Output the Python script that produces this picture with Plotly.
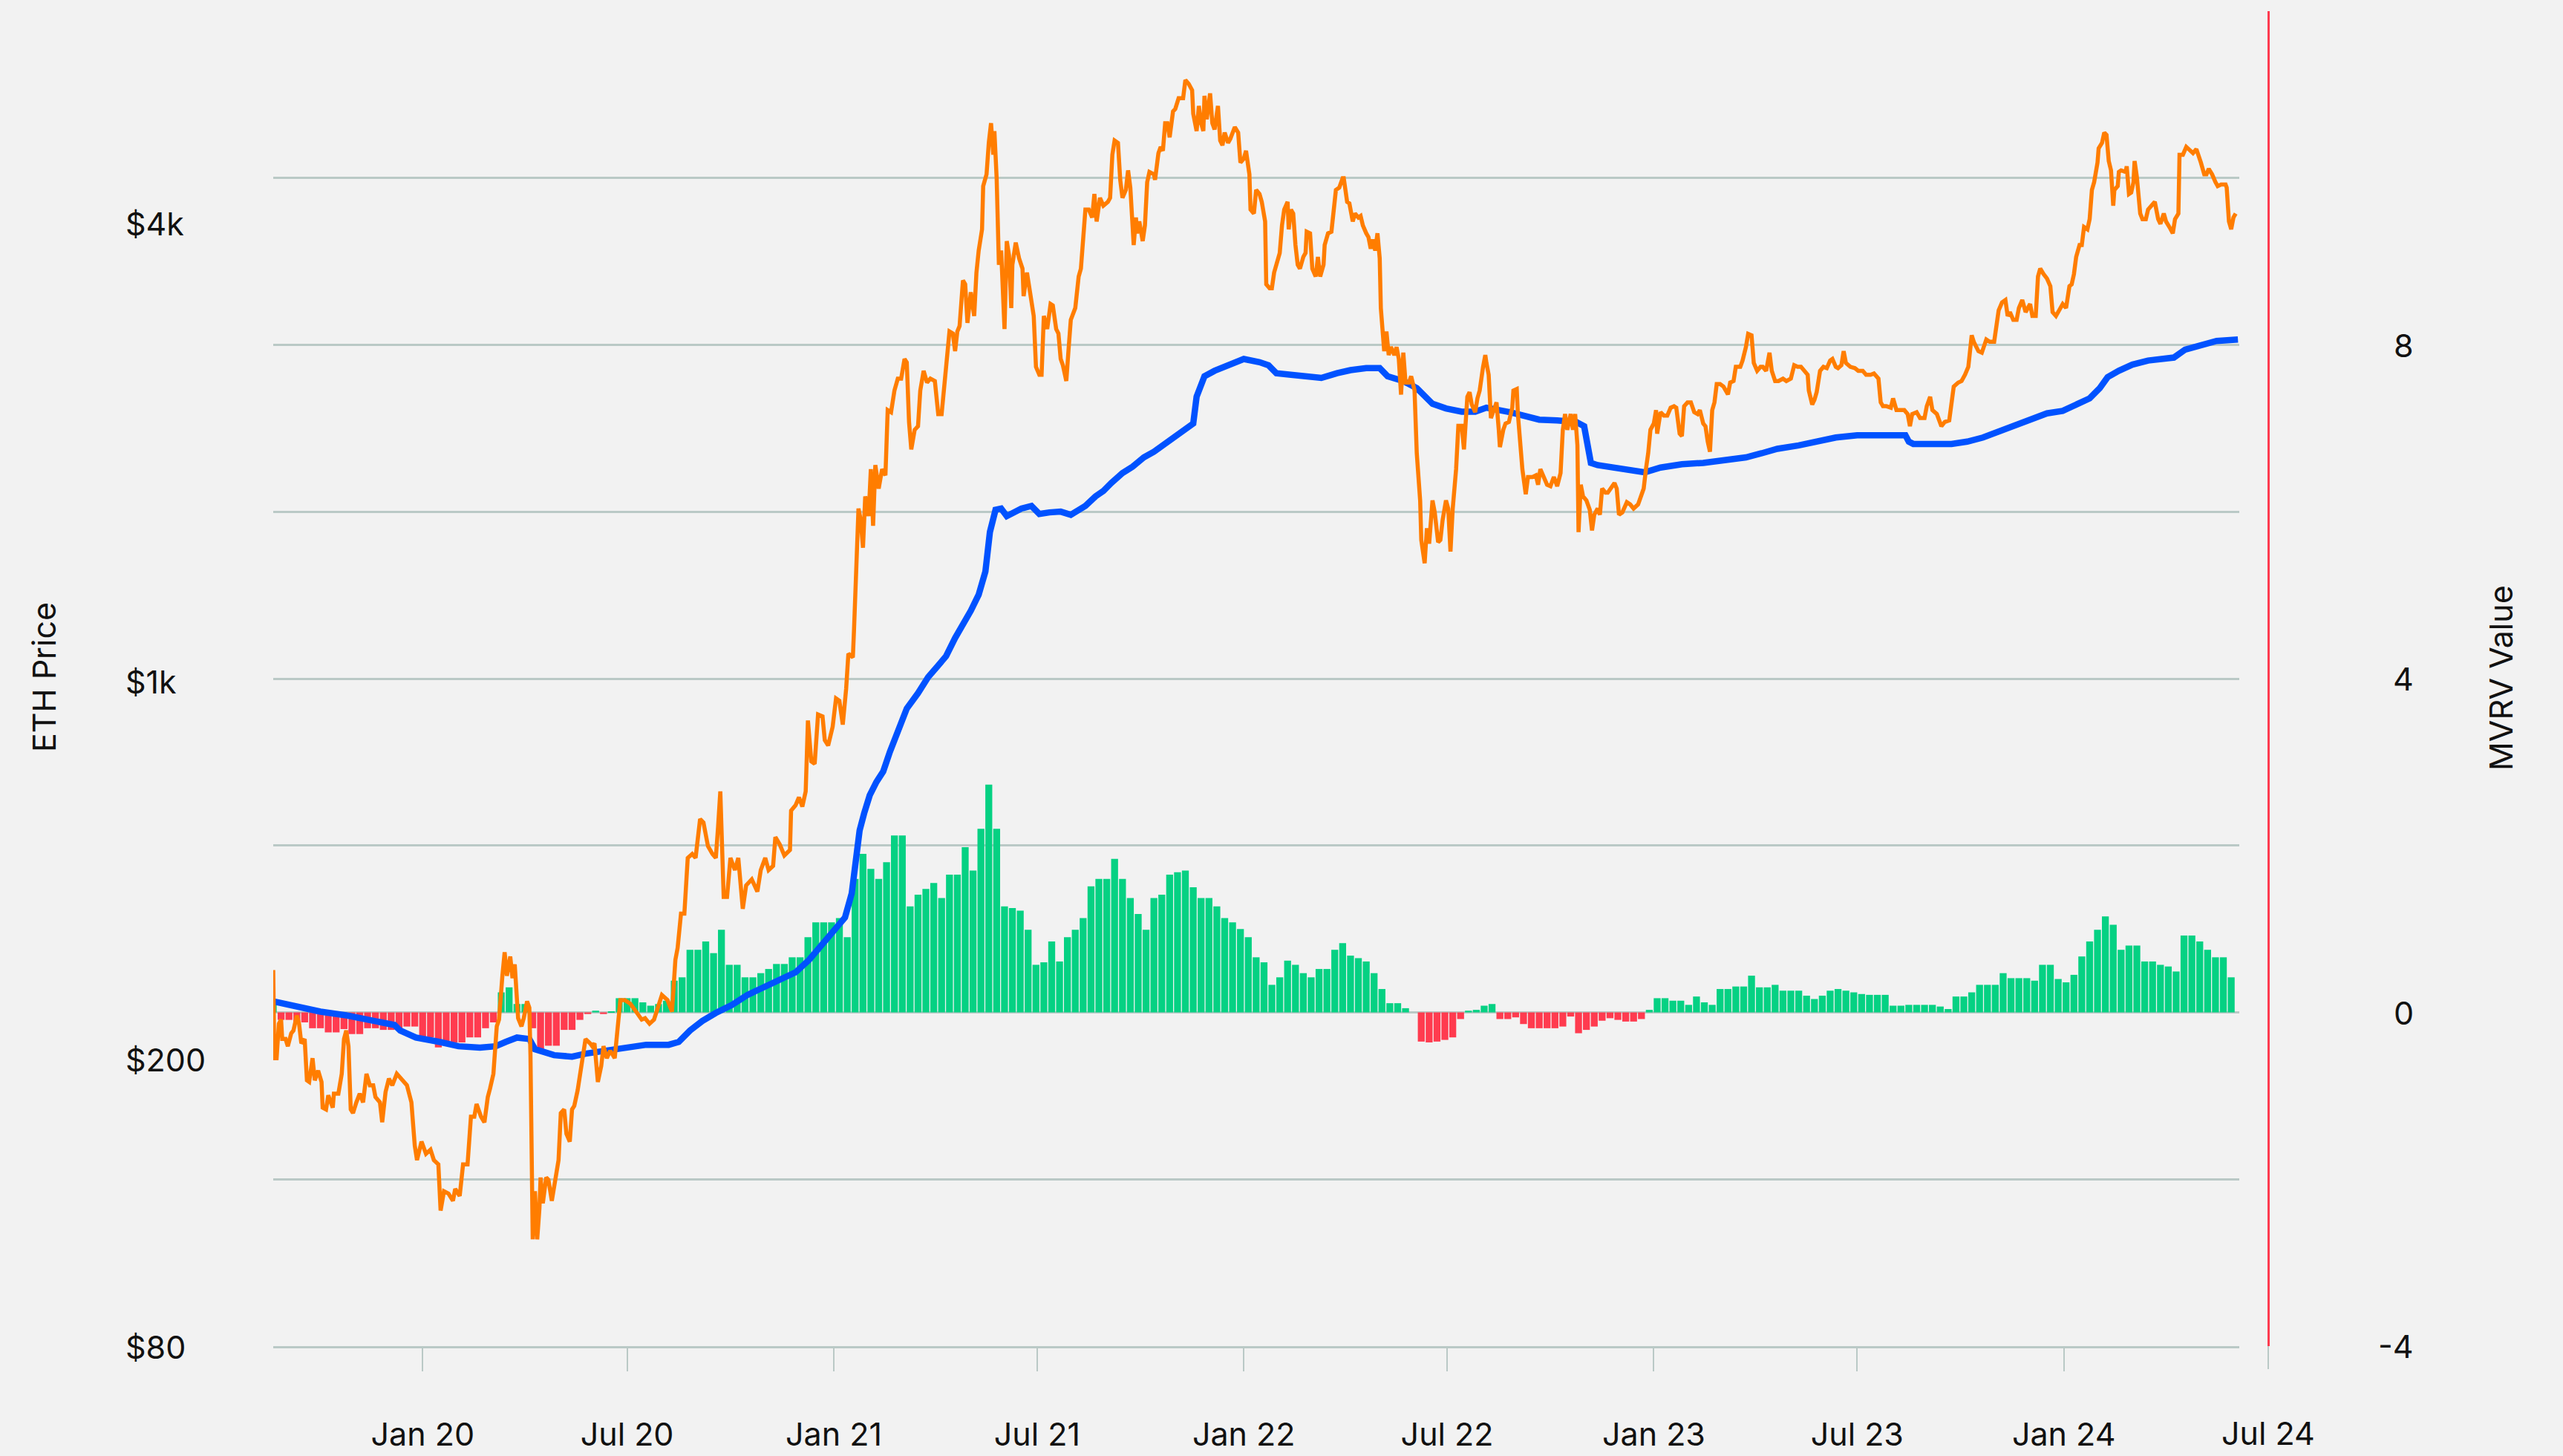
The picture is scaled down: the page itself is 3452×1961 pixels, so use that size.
import math
import pandas as pd
import plotly.graph_objects as go

# ---------------------------------------------------------------------------
# Data: ETH price, realized price and MVRV, Aug 2019 - Jun 2024
# Days are counted from START.
# ---------------------------------------------------------------------------
START = pd.Timestamp("2019-08-21")

price_day = [
    0, 1, 3, 5, 7, 8, 11, 13, 16, 18, 21, 23, 25, 28, 30, 32, 35, 37, 40, 43,
    44, 47, 49, 53, 54, 58, 61, 63, 65, 67, 69, 71, 74, 77, 80, 83, 86, 89, 91, 95,
    97, 100, 103, 106, 110, 115, 119, 123, 126, 128, 132, 136, 140, 143, 147, 149, 152, 156, 160, 162,
    166, 169, 173, 176, 179, 181, 185, 188, 191, 193, 196, 199, 201, 204, 206, 208, 211, 213, 215, 218,
    221, 223, 226, 228, 229, 231, 233, 235, 237, 238, 240, 243, 245, 248, 251, 254, 256, 259, 261, 264,
    266, 268, 271, 274, 278, 282, 284, 286, 289, 292, 294, 297, 300, 304, 306, 309, 313, 318, 323, 328,
    331, 335, 339, 343, 346, 351, 355, 358, 360, 363,
    366, 369, 373, 376, 380, 383, 387, 391, 394, 396, 398, 401, 404, 407, 411, 414, 418, 421, 426, 431,
    434, 438, 441, 445, 447, 451, 455, 460, 461, 465, 468, 471, 474, 476, 479, 482, 485, 489, 491, 494,
    498, 501, 504, 507, 510, 512, 516, 517, 519, 521, 523, 525, 527, 530, 532, 534, 536, 539, 542, 545,
    547, 550, 553, 556, 559, 562, 564, 566, 568, 571, 574, 576, 579, 582, 585, 589, 592, 595, 597, 600,
    602, 605, 607, 609, 611, 614, 616, 618, 621, 624, 626, 628, 631, 632, 635, 637, 639, 641, 642, 644,
    646, 648, 651, 653, 655, 657, 658, 661, 664, 667, 668, 671, 674, 677, 679, 682, 684, 686, 689, 692,
    694, 697, 699, 701, 703, 706, 708, 710, 714, 717, 719,
    723, 726, 729, 731, 733, 736, 739, 743, 745, 747, 749, 752, 754, 756, 759, 761, 763, 766, 768, 769,
    771, 774, 776, 778, 780, 784, 785, 788, 790, 792, 794, 796, 798, 801, 803, 806, 809, 810, 812, 815,
    818, 819, 822, 824, 826, 828, 829, 831, 834, 836, 838, 841, 843, 845, 847, 850, 852, 856, 859, 861,
    864, 866, 869, 870, 873, 875, 878, 880, 883, 884, 887, 889, 891, 893, 896, 898, 900, 903, 904, 906,
    908, 910, 912, 914, 917, 919, 920, 923, 925, 928, 930, 932, 935, 936, 939, 942, 944, 946, 949, 952,
    953, 956, 958, 961, 963, 966, 968, 970, 973, 975, 977, 979, 981, 983, 985, 986, 989, 991, 993, 995,
    998, 1000, 1002, 1004, 1006, 1008, 1011, 1013, 1016, 1018, 1021, 1022, 1025, 1027, 1029, 1032, 1034, 1037, 1039, 1041,
    1044, 1046, 1048, 1050, 1053, 1055, 1058, 1060, 1063, 1065, 1067, 1070, 1072, 1074, 1077, 1079,
    1080, 1082, 1084, 1087, 1089, 1091, 1092, 1095, 1097, 1100, 1103, 1104, 1107, 1108, 1110, 1112, 1115, 1117, 1121, 1124,
    1126, 1128, 1131, 1134, 1137, 1140, 1143, 1146, 1148, 1150, 1152, 1155, 1157, 1159, 1161, 1162, 1164, 1166, 1169, 1172,
    1174, 1176, 1179, 1181, 1183, 1186, 1188, 1191, 1194, 1196, 1198, 1201, 1205, 1208, 1211, 1215, 1218, 1220, 1222, 1224,
    1226, 1229, 1231, 1232, 1235, 1238, 1241, 1244, 1247, 1249, 1252, 1254, 1256, 1259, 1262, 1265, 1268, 1270, 1273, 1275,
    1277, 1279, 1281, 1283, 1285, 1288, 1291, 1295, 1297, 1300, 1302, 1306, 1308, 1311, 1313, 1316, 1318, 1321, 1324, 1326,
    1329, 1332, 1334, 1337, 1340, 1344, 1347, 1351, 1354, 1357, 1360, 1363, 1366, 1367, 1370, 1372, 1374, 1377, 1380, 1383,
    1386, 1388, 1391, 1393, 1396, 1398, 1400, 1404, 1408, 1411, 1415, 1418, 1422, 1425, 1429, 1431,
    1433, 1436, 1440, 1442, 1445, 1449, 1452, 1455, 1457, 1459, 1463, 1466, 1470, 1472, 1475, 1477, 1481, 1485, 1488, 1492,
    1494, 1496, 1500, 1503, 1506, 1509, 1512, 1514, 1518, 1521, 1525, 1528, 1532, 1534, 1536, 1539, 1542, 1544, 1546, 1549,
    1552, 1554, 1557, 1560, 1564, 1566, 1569, 1571, 1573, 1576, 1579, 1582, 1584, 1587, 1590, 1593, 1596, 1599, 1601, 1603,
    1605, 1608, 1610, 1612, 1615, 1617, 1619, 1621, 1624, 1625, 1628, 1630, 1632, 1634, 1636, 1638, 1639, 1642, 1643, 1645,
    1649, 1650, 1652, 1654, 1656, 1657, 1659, 1662, 1664, 1667, 1669, 1672, 1675, 1678, 1680, 1683, 1685, 1688, 1691, 1693,
    1696, 1697, 1700, 1703, 1706, 1709, 1712, 1714, 1716, 1719, 1721, 1723, 1726, 1729, 1731, 1734, 1738, 1739, 1741, 1743,
    1745, 1747,
]

eth_price = [
    270, 203, 203, 227, 230, 216, 216, 211, 220, 222, 233, 227, 213, 216, 189, 188, 203, 189, 195, 188,
    173, 172, 180, 173, 181, 181, 193, 216, 222, 211, 172, 170, 176, 181, 176, 193, 186, 186, 179, 176,
    165, 182, 190, 186, 193, 189, 186, 176, 153, 146, 155, 149, 151, 146, 144, 124, 132, 131, 128, 133,
    130, 144, 144, 168, 168, 175, 168, 165, 179, 184, 193, 225, 230, 265, 286, 265, 282, 263, 275, 231,
    225, 231, 244, 239, 205, 113, 132, 113, 125, 138, 127, 138, 137, 128, 138, 146, 170, 172, 159, 155,
    172, 174, 183, 198, 216, 213, 211, 213, 188, 198, 211, 203, 208, 203, 219, 245, 245, 242, 236, 230,
    231, 227, 230, 242, 249, 245, 236, 279, 290, 324,
    324, 388, 393, 388, 440, 435, 403, 393, 388, 429, 481, 342, 342, 388, 373, 388, 329, 355, 362, 348,
    373, 388, 373, 378, 415, 405, 391, 398, 452, 460, 472, 458, 481, 605, 530, 526, 617, 613, 568, 558,
    593, 650, 645, 597, 670, 751, 742, 810, 1032, 1201, 1157, 1058, 1249, 1172, 1364, 1136, 1382, 1281, 1364, 1337,
    1651, 1640, 1759, 1828, 1828, 1948, 1926, 1589, 1454, 1549, 1567, 1759, 1875, 1805, 1828, 1814, 1630, 1630, 1759, 1948,
    2129, 2115, 1998, 2129, 2167, 2511, 2480, 2189, 2417, 2239, 2576, 2766, 2963, 3407, 3539, 3918, 4176, 3771, 4071, 3495,
    2642, 2766, 2146, 2852, 2724, 2297, 2642, 2838, 2697, 2609, 2387, 2576, 2375, 2239, 1899, 1851, 1851, 2239, 2146, 2327,
    2316, 2146, 2115, 1948, 1908, 1814, 2008, 2211, 2297, 2543, 2609,
    3158, 3158, 3078, 3321, 3039, 3280, 3198, 3238, 3280, 3771, 3948, 3918, 3477, 3280, 3365, 3585, 3391, 2816, 3078, 2925,
    3039, 2852, 3000, 3451, 3566, 3539, 3477, 3790, 3868, 3820, 4176, 4176, 3989, 4338, 4371, 4529, 4529, 4529, 4801, 4742,
    4647, 4305, 4071, 4416, 4176, 4071, 4563, 4229, 4598, 4176, 4092, 4416, 3948, 3888, 4051, 3918, 3969, 4124, 4051, 3677,
    3724, 3820, 3539, 3158, 3118, 3365, 3321, 3238, 3039, 2480, 2449, 2449, 2576, 2642, 2745, 3000, 3158, 3238, 2963, 3158,
    3118, 2816, 2642, 2609, 2710, 2745, 2940, 2925, 2609, 2543, 2710, 2543, 2642, 2816, 2925, 2940, 3158, 3365, 3391, 3495,
    3495, 3238, 3222, 3039, 3118, 3078, 3094, 3000, 2925, 2888, 2783, 2867, 2766, 2925, 2697, 2297, 1998, 2129, 1973, 2025,
    1973, 2024, 1948, 1736, 1988, 1805, 1805, 1842, 1759, 1436, 1233, 1085, 1006, 1127, 1072, 1233, 1186, 1077, 1085, 1157,
    1233, 1201, 1045, 1201, 1364, 1569, 1569, 1454, 1724, 1750, 1681, 1640, 1715, 1759, 1899, 1973,
    1923, 1851, 1609, 1651, 1693, 1549, 1465, 1549, 1581, 1589, 1664, 1759, 1768, 1630, 1465, 1364, 1258, 1330, 1330, 1337,
    1297, 1364, 1330, 1297, 1291, 1330, 1291, 1347, 1549, 1630, 1549, 1630, 1549, 1630, 1473, 1113, 1297, 1249, 1233, 1196,
    1119, 1177, 1201, 1177, 1281, 1264, 1264, 1281, 1304, 1281, 1177, 1186, 1226, 1217, 1201, 1217, 1264, 1281, 1364, 1436,
    1549, 1581, 1651, 1530, 1640, 1622, 1622, 1664, 1672, 1664, 1530, 1518, 1672, 1693, 1693, 1640, 1630, 1651, 1581, 1567,
    1491, 1443, 1651, 1693, 1796, 1796, 1782, 1737, 1805, 1814, 1899, 1899, 1938, 2024, 2113, 2103, 1923, 1875, 1899, 1899,
    1875, 1988, 1875, 1814, 1814, 1828, 1814, 1828, 1909, 1899, 1899, 1875, 1851, 1759, 1681, 1707, 1750, 1875, 1899, 1891,
    1938, 1948, 1899, 1891, 1909, 1998, 1923, 1899, 1891, 1875, 1875, 1851, 1851, 1859, 1828, 1693,
    1672, 1672, 1664, 1715, 1651, 1651, 1651, 1630, 1567, 1630, 1640, 1609, 1609, 1672, 1724, 1651, 1630, 1567, 1589, 1597,
    1693, 1782, 1805, 1814, 1851, 1899, 2103, 2056, 1998, 1988, 2075, 2060, 2060, 2200, 2280, 2339, 2357, 2239, 2267, 2211,
    2211, 2297, 2357, 2267, 2327, 2239, 2239, 2543, 2609, 2563, 2527, 2465, 2267, 2239, 2280, 2327, 2297, 2465, 2480, 2563,
    2710, 2816, 2816, 2985, 2963, 3062, 3365, 3451, 3677, 3849, 3918, 4051, 4020, 3695, 3585, 3198, 3365, 3407, 3567, 3585,
    3567, 3633, 3321, 3337, 3451, 3695, 3512, 3118, 3062, 3062, 3158, 3198, 3238, 3062, 3016, 3118, 3039, 2985, 2925, 3062,
    3118, 3771, 3771, 3868, 3820, 3790, 3840, 3771, 3677, 3539, 3539, 3603, 3539, 3451, 3407, 3424, 3424, 3391, 3039, 2963,
    3078, 3118,
]

realized_day = [
    0, 18, 42, 66, 89, 108, 113, 127, 148, 165, 184, 198, 207, 217, 228, 233, 250, 266, 278, 309,
    332, 352, 361, 371, 382, 394, 408, 422, 437, 451, 465, 477, 489, 500, 509, 515, 518, 522, 526, 531,
    537, 543, 549, 555, 564, 574, 583, 592, 599, 607, 614, 621, 628, 634, 638, 643, 648, 653, 658, 666,
    675, 682, 691, 701, 710, 716, 723, 732, 739, 746, 756, 765, 775, 784, 794, 803, 812, 819, 822, 829,
    838, 850, 864, 878, 886, 893, 904, 916, 933, 947, 959, 973, 985, 992, 1006, 1018, 1025, 1032, 1044, 1058,
    1070, 1080, 1101, 1113, 1127, 1143, 1160, 1167, 1169, 1173, 1179, 1193, 1207, 1221, 1235, 1254, 1273, 1287, 1311, 1325,
    1339, 1358, 1372, 1391, 1410, 1433, 1453, 1456, 1460, 1494, 1508, 1522, 1537, 1551, 1565, 1579, 1593, 1607, 1617, 1626,
    1633, 1643, 1655, 1669, 1692, 1702, 1716, 1730, 1749,
]

realized_price = [
    244, 240, 236, 233, 229, 226, 222, 217, 214, 211, 210, 211, 214, 217, 216, 209, 205, 204, 206, 210,
    212, 212, 214, 222, 229, 235, 241, 249, 255, 261, 268, 279, 293, 308, 320, 346, 383, 424, 448, 475,
    496, 513, 547, 582, 629, 661, 696, 723, 745, 790, 825, 863, 909, 980, 1113, 1196, 1201, 1172, 1183, 1201,
    1211, 1180, 1186, 1189, 1177, 1191, 1211, 1249, 1271, 1304, 1347, 1375, 1417, 1443, 1480, 1518, 1549, 1581, 1724, 1842,
    1875, 1909, 1948, 1928, 1909, 1860, 1851, 1842, 1832, 1860, 1879, 1891, 1891, 1842, 1814, 1773, 1724, 1685, 1660, 1643,
    1643, 1664, 1640, 1622, 1601, 1597, 1589, 1567, 1491, 1392, 1382, 1371, 1357, 1350, 1371, 1386, 1392, 1400, 1417, 1436,
    1457, 1473, 1491, 1511, 1522, 1522, 1522, 1491, 1480, 1480, 1491, 1511, 1541, 1567, 1601, 1634, 1647, 1681, 1715, 1773,
    1837, 1875, 1913, 1938, 1957, 2008, 2034, 2065, 2075,
]

# MVRV value, one reading per week from START
mvrv_weekly = [
    0.11, -0.09, -0.09, -0.12, -0.12, -0.19, -0.19, -0.24, -0.24, -0.20,
    -0.26, -0.26, -0.19, -0.19, -0.21, -0.21, -0.21, -0.17, -0.17, -0.30,
    -0.30, -0.42, -0.36, -0.36, -0.36, -0.30, -0.30, -0.19, -0.12, 0.24,
    0.30, 0.10, 0.10, -0.19, -0.47, -0.40, -0.40, -0.21, -0.21, -0.09,
    -0.02, 0.02, -0.02, 0.01, 0.17, 0.17, 0.17, 0.12, 0.08, 0.10,
    0.14, 0.38, 0.42, 0.75, 0.75, 0.85, 0.71, 0.99, 0.57, 0.57,
    0.42, 0.42, 0.47, 0.52, 0.58, 0.58, 0.66, 0.66, 0.90, 1.08,
    1.08, 1.08, 1.13, 0.90, 1.60, 1.90, 1.72, 1.60, 1.80, 2.12,
    2.12, 1.27, 1.41, 1.48, 1.55, 1.37, 1.65, 1.65, 1.98, 1.70,
    2.20, 2.73, 2.20, 1.27, 1.25, 1.22, 0.99, 0.57, 0.60, 0.85,
    0.61, 0.90, 0.99, 1.13, 1.51, 1.60, 1.60, 1.84, 1.60, 1.37,
    1.18, 0.99, 1.37, 1.41, 1.65, 1.68, 1.70, 1.50, 1.37, 1.37,
    1.27, 1.13, 1.08, 1.00, 0.90, 0.66, 0.60, 0.33, 0.42, 0.62,
    0.57, 0.47, 0.42, 0.52, 0.52, 0.75, 0.83, 0.68, 0.65, 0.61,
    0.47, 0.28, 0.11, 0.11, 0.05, 0.00, -0.35, -0.36, -0.35, -0.33,
    -0.30, -0.08, 0.02, 0.03, 0.08, 0.10, -0.08, -0.08, -0.06, -0.14,
    -0.19, -0.19, -0.19, -0.19, -0.17, -0.05, -0.25, -0.21, -0.17, -0.10,
    -0.07, -0.09, -0.11, -0.11, -0.08, 0.03, 0.17, 0.17, 0.14, 0.14,
    0.09, 0.19, 0.12, 0.09, 0.28, 0.28, 0.31, 0.31, 0.44, 0.30,
    0.30, 0.33, 0.26, 0.26, 0.26, 0.20, 0.16, 0.20, 0.26, 0.28,
    0.26, 0.24, 0.22, 0.21, 0.21, 0.21, 0.08, 0.08, 0.09, 0.09,
    0.09, 0.09, 0.07, 0.04, 0.19, 0.19, 0.24, 0.33, 0.33, 0.33,
    0.47, 0.41, 0.41, 0.41, 0.38, 0.57, 0.57, 0.40, 0.36, 0.45,
    0.67, 0.85, 0.99, 1.15, 1.05, 0.75, 0.80, 0.80, 0.61, 0.61,
    0.57, 0.55, 0.49, 0.92, 0.92, 0.85, 0.75, 0.66, 0.66, 0.42,
]

x_tick_dates = ["2020-01-01", "2020-07-01", "2021-01-01", "2021-07-01", "2022-01-01",
                "2022-07-01", "2023-01-01", "2023-07-01", "2024-01-01"]
x_tick_text = ["Jan 20", "Jul 20", "Jan 21", "Jul 21", "Jan 22",
               "Jul 22", "Jan 23", "Jul 23", "Jan 24"]
price_axis_labels = ["$4k", "$1k", "$200", "$80"]
mvrv_axis_labels = [8, 4, 0, -4]

# ---------------------------------------------------------------------------
# Styling
# ---------------------------------------------------------------------------
W, H = 3452, 1961
BG = "#F2F2F2"
GRID = "#BAC9C6"
ORANGE = "#FF7D00"
BLUE = "#0052FF"
GREEN = "#05D183"
RED = "#FF3B4F"
TEXT = "#111111"
FONT = "Inter"
FS = 43

M_L, M_R, M_T, M_B = 368, 397, 15, 148
plot_w = W - M_L - M_R
plot_h = H - M_T - M_B
x_domain_end = (3016 - M_L) / plot_w


def to_dates(days):
    return [START + pd.Timedelta(days=float(d)) for d in days]


def px_x(px):
    return (px - M_L) / plot_w


def px_y(py):
    return (H - M_B - py) / plot_h


bar_dates = [START + pd.Timedelta(days=7 * i) for i in range(len(mvrv_weekly))]
bar_colors = [GREEN if v >= 0 else RED for v in mvrv_weekly]

fig = go.Figure()

fig.add_trace(go.Bar(
    x=bar_dates, y=mvrv_weekly, marker=dict(color=bar_colors, line=dict(width=0)),
    xaxis="x", yaxis="y", name="MVRV", hoverinfo="skip",
))
fig.add_trace(go.Scatter(
    x=to_dates(realized_day), y=realized_price, mode="lines",
    line=dict(color=BLUE, width=8.5), xaxis="x", yaxis="y2", name="Realized Price",
))
fig.add_trace(go.Scatter(
    x=to_dates(price_day), y=eth_price, mode="lines",
    line=dict(color=ORANGE, width=5.5), xaxis="x", yaxis="y2", name="ETH Price",
))

x_end = START + pd.Timedelta(days=1750.2)

fig.update_layout(
    width=W, height=H,
    margin=dict(l=M_L, r=M_R, t=M_T, b=M_B, pad=0, autoexpand=False),
    paper_bgcolor=BG, plot_bgcolor=BG,
    showlegend=False,
    bargap=0.12,
    font=dict(family=FONT, size=FS, color=TEXT),
    xaxis=dict(
        domain=[0, x_domain_end], type="date",
        range=[START, x_end],
        tickvals=x_tick_dates, ticktext=x_tick_text,
        ticks="outside", ticklen=31, tickwidth=2, tickcolor=GRID,
        showline=True, linecolor=GRID, linewidth=3,
        showgrid=False, zeroline=False,
        tickfont=dict(family=FONT, size=FS, color=TEXT),
        ticklabelstandoff=48,
        automargin=False,
        anchor="y",
    ),
    yaxis=dict(
        range=[-4, 12], dtick=2, tick0=0,
        side="right", anchor="free", position=1.0,
        showgrid=True, gridcolor=GRID, gridwidth=2.5,
        showticklabels=False, ticks="",
        showline=True, linecolor=RED, linewidth=3,
        zeroline=False, automargin=False,
    ),
    yaxis2=dict(
        type="log", range=[math.log10(80), math.log10(6000)],
        overlaying="y", side="left", anchor="x",
        showgrid=False, showticklabels=False, ticks="",
        showline=False, zeroline=False, automargin=False,
    ),
)

# Jul 24 tick just past the plotted range
fig.add_shape(type="line", xref="paper", yref="paper",
              x0=1.0, x1=1.0, y0=0, y1=px_y(1844),
              line=dict(color=GRID, width=2))
fig.add_annotation(text="Jul 24", xref="paper", yref="paper",
                   x=1.0, y=px_y(1930), xanchor="center", yanchor="middle",
                   showarrow=False, font=dict(family=FONT, size=FS, color=TEXT))

# Price axis labels (left aligned)
for label, py in zip(price_axis_labels, [301, 918, 1427, 1814]):
    fig.add_annotation(text=label, xref="paper", yref="paper",
                       x=px_x(167), y=px_y(py), xanchor="left", yanchor="middle",
                       showarrow=False, font=dict(family=FONT, size=FS, color=TEXT))

# MVRV axis labels (right aligned)
for v in mvrv_axis_labels:
    fig.add_annotation(text=str(v), xref="paper", yref="y",
                       x=px_x(3253), y=v, xanchor="right", yanchor="middle",
                       showarrow=False, font=dict(family=FONT, size=FS, color=TEXT))

# Axis titles
fig.add_annotation(text="ETH Price", xref="paper", yref="paper",
                   x=px_x(59), y=px_y(912), textangle=-90,
                   xanchor="center", yanchor="middle", showarrow=False,
                   font=dict(family=FONT, size=FS, color=TEXT))
fig.add_annotation(text="MVRV Value", xref="paper", yref="paper",
                   x=px_x(3368), y=px_y(913), textangle=-90,
                   xanchor="center", yanchor="middle", showarrow=False,
                   font=dict(family=FONT, size=FS, color=TEXT))

fig.write_html("out.html")
